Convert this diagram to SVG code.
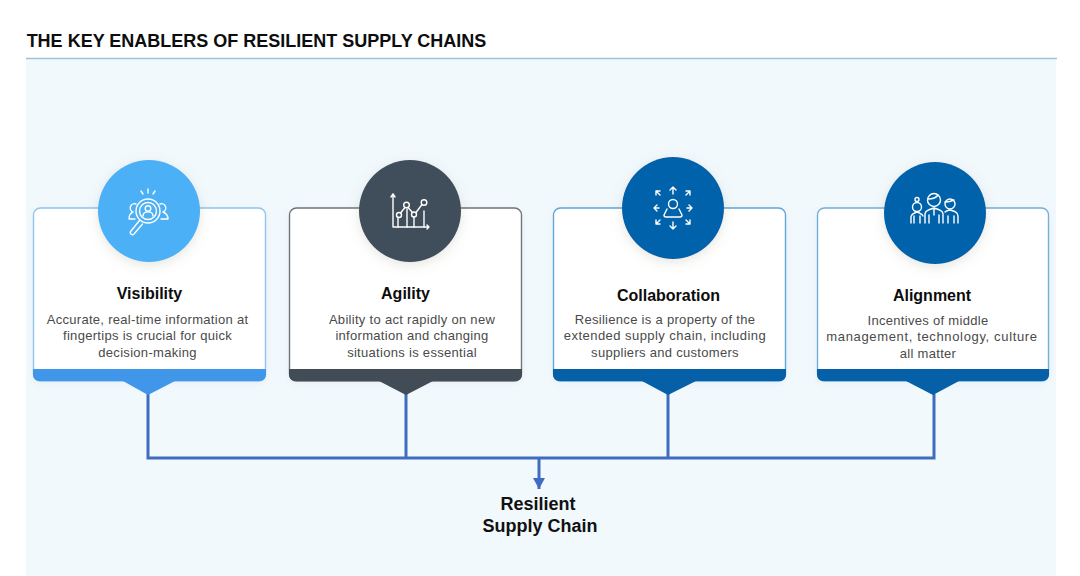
<svg xmlns="http://www.w3.org/2000/svg" width="1080" height="576" viewBox="0 0 1080 576">
<style>
text{font-family:"Liberation Sans",Arial,sans-serif;text-anchor:middle}
.h{font-size:16px;font-weight:700;fill:#0c0c0c}
.b{font-size:13px;letter-spacing:.3px;fill:#4a4a4a}
.w{letter-spacing:.45px}
.card{fill:#fff;stroke-width:1.4}
.ic{fill:none;stroke:#fff;stroke-width:1.4;stroke-linecap:round;stroke-linejoin:round}
.cn{fill:none;stroke:#3f6cc0;stroke-width:3}
.t{font-size:18px;font-weight:700;fill:#0d0d0d}
.r{font-size:18px;font-weight:700;fill:#111}
</style>
<defs>
<filter id="s" x="-30%" y="-30%" width="160%" height="160%"><feDropShadow dx="0" dy="3" stdDeviation="6" flood-color="#8a8a70" flood-opacity=".22"/></filter>
<filter id="cs" x="-10%" y="-10%" width="120%" height="120%"><feDropShadow dx="0" dy="2" stdDeviation="4" flood-color="#9ab" flood-opacity=".12"/></filter>
<marker id="ah" markerUnits="userSpaceOnUse" markerWidth="12" markerHeight="12" refX="11" refY="6" orient="auto"><path d="M0 0L11 6L0 12Z" fill="#3f6cc0"/></marker>
</defs>
<rect width="1080" height="576" fill="#fff"/>
<rect x="26" y="58" width="1030" height="518" fill="#f2f9fd"/>
<line x1="26" y1="58.500" x2="1057" y2="58.500" stroke="#9cc3de" stroke-width="1.500"/>
<text class="t" x="256.500" y="47">THE KEY ENABLERS OF RESILIENT SUPPLY CHAINS</text>

<g id="connectors">
<path class="cn" d="M148 394V458H934V394M406 394V458M668 394V458"/>
<path class="cn" d="M539 458V489" marker-end="url(#ah)"/>
</g>

<g id="visibility">
<rect class="card" x="33.500" y="208" width="232" height="173" rx="7" stroke="#90c4ef" filter="url(#cs)"/>
<path d="M33 369H266V375a6 6 0 0 1-6 6H175L148 395L123 381H39a6 6 0 0 1-6-6Z" fill="#4096e8"/>
<circle cx="149" cy="211" r="51" fill="#4cb0f6" filter="url(#s)"/>
<g class="ic">
<circle cx="148" cy="211" r="12"/><circle cx="148" cy="211" r="8.500"/>
<circle cx="148" cy="208.500" r="2.800"/><path d="M143 216c0-5.500 10-5.500 10 0"/>
<path d="M139.500 220.500L131 231a2 2 0 0 0 3 3l8.500-10"/>
<path d="M136 204a4 4 0 0 0-3 8c-2 1-4 2-4 7h6M160 204a4 4 0 0 1 3 8c2 1 5 2 5 7h-7"/>
<path d="M148 189v4M141 191l2 3M155 191l-2 3"/>
</g>
<text class="h" x="149.500" y="298.500">Visibility</text>
<text class="b" x="147.500" y="324">Accurate, real-time information at</text>
<text class="b" x="147.500" y="340">fingertips is crucial for quick</text>
<text class="b" x="147.500" y="357">decision-making</text>
</g>

<g id="agility">
<rect class="card" x="289.500" y="208" width="232" height="173" rx="7" stroke="#6e7479" filter="url(#cs)"/>
<path d="M289 369H522V375a6 6 0 0 1-6 6H433L406 395L379 381H295a6 6 0 0 1-6-6Z" fill="#414c56"/>
<circle cx="410" cy="211" r="51" fill="#414e5a" filter="url(#s)"/>
<g class="ic">
<path d="M393 227V194M391 197l2-3 2 3M393 227H429M427 225l2 2-2 2"/>
<path d="M398 227v-9M407 227v-18M414 227v-10M424 227v-16"/>
<circle cx="399" cy="215" r="2.500"/><circle cx="406.500" cy="205" r="2.800"/><circle cx="414" cy="214.500" r="2.500"/><circle cx="424" cy="202.500" r="2.800"/>
<path d="M400.500 213L405 207.500M408 207.500L412.500 212.500M416 212.500L422 204.500"/>
</g>
<text class="h" x="405.500" y="298.500">Agility</text>
<text class="b" x="412" y="324">Ability to act rapidly on new</text>
<text class="b" x="412" y="340">information and changing</text>
<text class="b" x="412" y="357">situations is essential</text>
</g>

<g id="collaboration">
<rect class="card" x="553.500" y="208" width="232" height="173" rx="7" stroke="#5fa6d8" filter="url(#cs)"/>
<path d="M553 369H786V375a6 6 0 0 1-6 6H696L668 395L642 381H559a6 6 0 0 1-6-6Z" fill="#0560a8"/>
<circle cx="673" cy="208" r="51" fill="#0662aa" filter="url(#s)"/>
<g class="ic">
<circle cx="673" cy="204" r="4.500"/><path d="M667 209l-3 6c0 1.500 1 2 2 2h14c1 0 2-.5 2-2l-3-6"/>
<path d="M673 194V187M670 190l3-3 3 3M673 222V229M670 226l3 3 3-3M659 208H654M657 205l-3 3 3 3M687 208H692M689 205l3 3-3 3"/>
<path d="M660 195l-4-4M656 195v-4h4M686 195l4-4M686 191h4v4M660 220l-4 4M656 220v4h4M686 220l4 4M690 220v4h-4"/>
</g>
<text class="h" x="668.500" y="300.500">Collaboration</text>
<text class="b" x="665" y="324">Resilience is a property of the</text>
<text class="b w" x="665" y="340">extended supply chain, including</text>
<text class="b" x="665" y="357">suppliers and customers</text>
</g>

<g id="alignment">
<rect class="card" x="817.500" y="208" width="231" height="173" rx="7" stroke="#72b0da" filter="url(#cs)"/>
<path d="M817 369H1049V375a6 6 0 0 1-6 6H959L933 395L906 381H823a6 6 0 0 1-6-6Z" fill="#0560a8"/>
<circle cx="935" cy="213" r="51" fill="#0662aa" filter="url(#s)"/>
<g class="ic" stroke-width="1.300">
<circle cx="917" cy="207" r="4.500"/><circle cx="917" cy="199.500" r="2"/>
<path d="M911 223V217c0-3 3-4 6-5 3 1 5 2 6 4M914 223V216M920 223V216"/>
<circle cx="934" cy="200" r="6.500"/><path d="M928 199c3 0 8-1 10-4"/>
<path d="M925 223V214c0-3 3-4 9-6 6 2 9 3 9 6V223M929 223V215M939 223V215M934 208v7"/>
<circle cx="950" cy="204" r="5"/><path d="M945 202c3 0 7-1 9-2"/>
<path d="M945 212c2-1 3-2 5-2 4 1 8 2 8 6v7M948 223V216M954 223V216"/>
</g>
<text class="h" x="932" y="300.500">Alignment</text>
<text class="b" x="928" y="325">Incentives of middle</text>
<text class="b" style="letter-spacing:.65px" x="932" y="341">management, technology, culture</text>
<text class="b" x="928" y="358">all matter</text>
</g>

<g id="result">
<text class="r" x="538" y="510">Resilient</text>
<text class="r" x="540" y="532">Supply Chain</text>
</g>
</svg>
